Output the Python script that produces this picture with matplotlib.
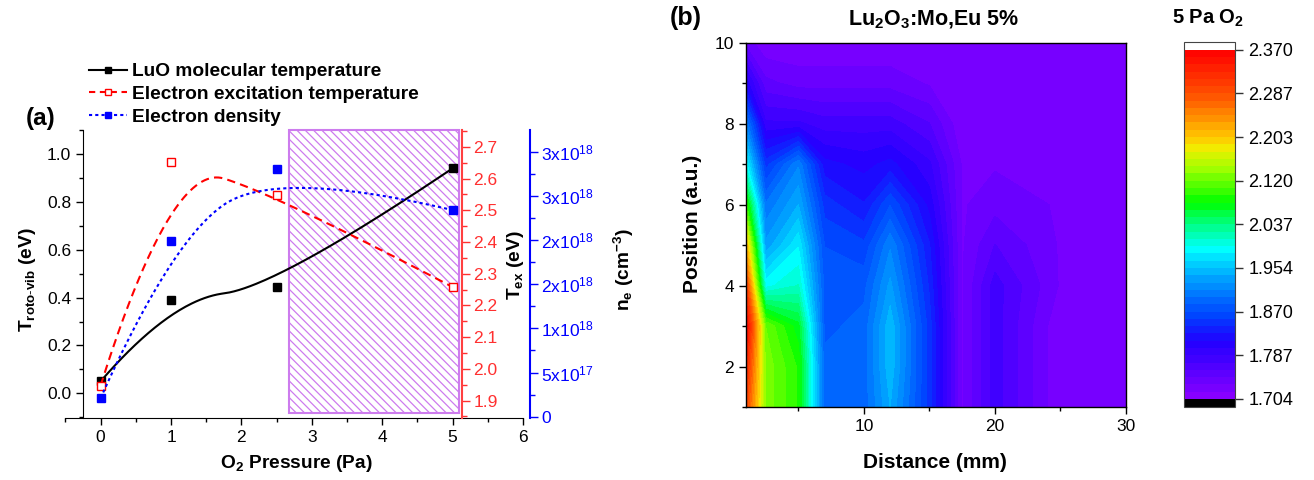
import numpy as np
import matplotlib
matplotlib.use('Agg')
import matplotlib.pyplot as plt
from matplotlib.lines import Line2D
from matplotlib.colors import LinearSegmentedColormap
from matplotlib.ticker import MultipleLocator, FixedLocator, FuncFormatter, FormatStrFormatter

plt.rcParams['font.family'] = 'Liberation Sans'
plt.rcParams['mathtext.fontset'] = 'custom'
plt.rcParams['mathtext.rm'] = 'Liberation Sans'
plt.rcParams['mathtext.it'] = 'Liberation Sans:italic'
plt.rcParams['mathtext.bf'] = 'Liberation Sans:bold'
plt.rcParams['hatch.linewidth'] = 0.9

# ---------------- panel (a) data ----------------
pressure = [0, 1, 2.5, 5]
luo_temp = [0.05, 0.39, 0.445, 0.94]            # T_roto-vib (eV)
tex_vals = [1.947, 2.651, 2.549, 2.258]         # T_ex (eV)
ne_vals = [0.21e18, 1.99e18, 2.81e18, 2.34e18]  # n_e (cm^-3)
shade_range = [2.68, 5.09]
legend_labels = ['LuO molecular temperature',
                 'Electron excitation temperature',
                 'Electron density']

# ---------------- panel (b) data ----------------
distance = [1, 2.5, 5, 7, 10, 12, 15, 17.5, 20, 25, 30]
position = [1, 2, 3, 4, 5, 6, 7, 8, 9, 10]
col_d1 = [2.30, 2.33, 2.37, 2.31, 2.22, 2.10, 1.99, 1.91, 1.81, 1.74]
col_d2_5 = [2.13, 2.13, 2.12, 1.99, 1.93, 1.90, 1.85, 1.79, 1.75, 1.72]
col_d5 = [2.09, 2.09, 2.07, 2.01, 1.98, 1.94, 1.91, 1.79, 1.74, 1.72]
col_d7 = [1.89, 1.89, 1.88, 1.88, 1.87, 1.85, 1.82, 1.78, 1.74, 1.72]
col_d10 = [1.89, 1.89, 1.89, 1.88, 1.86, 1.83, 1.81, 1.78, 1.74, 1.72]
col_d12 = [1.94, 1.95, 1.95, 1.93, 1.91, 1.87, 1.82, 1.78, 1.74, 1.72]
col_d15 = [1.85, 1.85, 1.85, 1.84, 1.83, 1.81, 1.79, 1.76, 1.73, 1.72]
col_d17_5 = [1.73, 1.73, 1.73, 1.73, 1.73, 1.73, 1.73, 1.72, 1.72, 1.72]
col_d20 = [1.78, 1.78, 1.78, 1.78, 1.76, 1.74, 1.73, 1.73, 1.72, 1.72]
col_d25 = [1.72, 1.72, 1.72, 1.73, 1.73, 1.73, 1.72, 1.72, 1.72, 1.72]
col_d30 = [1.72, 1.72, 1.72, 1.73, 1.73, 1.72, 1.72, 1.72, 1.72, 1.72]
cbar_ticks = [1.704, 1.787, 1.870, 1.954, 2.037, 2.120, 2.203, 2.287, 2.370]

W, H = 1314, 480
fig = plt.figure(figsize=(W / 100, H / 100), dpi=100)


def fx(px):
    return px / W


def fy(py):
    return 1 - py / H


def quad_bspline(xv, yv, npts=80):
    """Clamped uniform quadratic B-spline using the data points as control points."""
    P = np.column_stack([xv, yv]).astype(float)
    n = len(P)
    s = np.linspace(0, 1, npts)[:, None]
    out = []
    for k in range(n - 2):
        A = P[0] if k == 0 else (P[k] + P[k + 1]) / 2
        C = P[n - 1] if k == n - 3 else (P[k + 1] + P[k + 2]) / 2
        seg = (1 - s) ** 2 * A + 2 * s * (1 - s) * P[k + 1] + s ** 2 * C
        out.append(seg)
    out = np.vstack(out)
    return out[:, 0], out[:, 1]


MS = 5.2

# ---------------- panel (a) ----------------
ax = fig.add_axes([fx(65.4), fy(418), (523 - 65.4) / W, (418 - 130) / H])
ax.set_xlim(-0.5, 6)
ax.set_ylim(-0.103, 1.10)
ax.spines['top'].set_visible(False)
ax.spines['right'].set_visible(False)
ax.spines['left'].set_position(('data', -0.25))
ax.xaxis.set_major_locator(MultipleLocator(1))
ax.xaxis.set_minor_locator(MultipleLocator(0.5))
ax.yaxis.set_major_locator(MultipleLocator(0.2))
ax.yaxis.set_minor_locator(MultipleLocator(0.1))
ax.yaxis.set_major_formatter(FormatStrFormatter('%.1f'))
ax.tick_params(which='major', direction='out', length=5, width=1, labelsize=12.5)
ax.tick_params(which='minor', direction='out', length=3, width=1)

ax.axvspan(shade_range[0], shade_range[1], ymin=0.017, ymax=1.0,
           facecolor='none', edgecolor='#CD7CEE', hatch='\\\\\\\\',
           linewidth=1.5, zorder=0.5, clip_on=False)

bx, by = quad_bspline(pressure, luo_temp)
ax.plot(bx, by, color='black', lw=1.5, zorder=3)
ax.plot(pressure, luo_temp, ls='none', marker='s', ms=MS, color='black', zorder=4)

axr = ax.twinx()
axr.set_ylim(1.845, 2.753)
for s in ['left', 'top', 'bottom']:
    axr.spines[s].set_visible(False)
axr.spines['right'].set_position(('data', 5.13))
axr.spines['right'].set_color('#FF4040')
axr.spines['right'].set_linewidth(1.5)
axr.yaxis.set_major_locator(MultipleLocator(0.1))
axr.yaxis.set_minor_locator(MultipleLocator(0.05))
axr.yaxis.set_major_formatter(FormatStrFormatter('%.1f'))
axr.tick_params(which='major', direction='out', length=6, width=1, colors='#FF3030',
                labelsize=12.5, pad=2.5)
axr.tick_params(which='minor', direction='out', length=3.5, width=1, colors='#FF3030')
rx, ry = quad_bspline(pressure, tex_vals)
axr.plot(rx, ry, color='red', lw=1.5, dashes=(4, 2.5), zorder=3)
axr.plot(pressure, tex_vals, ls='none', marker='s', ms=MS, mfc='white',
         mec='red', mew=1.0, zorder=4)

axb = ax.twinx()
axb.set_ylim(-0.015e18, 3.247e18)
for s in ['left', 'top', 'bottom']:
    axb.spines[s].set_visible(False)
axb.spines['right'].set_position(('outward', 5))
axb.spines['right'].set_color('blue')
axb.spines['right'].set_linewidth(1.5)
axb.yaxis.set_major_locator(MultipleLocator(0.5e18))
axb.yaxis.set_minor_locator(MultipleLocator(0.25e18))


def sci_fmt(v, pos):
    if v < -1e6:
        return ''
    if abs(v) < 1e6:
        return '0'
    e = int(np.floor(np.log10(v)))
    m = int(v / 10 ** e + 0.5)
    if m >= 10:
        m //= 10
        e += 1
    return '%dx10$^{%d}$' % (m, e)


axb.yaxis.set_major_formatter(FuncFormatter(sci_fmt))
axb.tick_params(which='major', direction='out', length=6, width=1, colors='blue',
                labelsize=12.5, pad=2)
axb.tick_params(which='minor', direction='out', length=3.5, width=1, colors='blue')
nx, ny = quad_bspline(pressure, ne_vals)
axb.plot(nx, ny, color='blue', lw=1.5, dashes=(1.5, 1.5), zorder=3)
axb.plot(pressure, ne_vals, ls='none', marker='s', ms=MS, color='blue', zorder=4)

handles = [
    Line2D([], [], color='black', lw=1.5, marker='s', ms=4.5),
    Line2D([], [], color='red', lw=1.5, dashes=(3, 2.2), marker='s', ms=4.5, mfc='white', mec='red'),
    Line2D([], [], color='blue', lw=1.5, dashes=(1.5, 1.5), marker='s', ms=4.5),
]
fig.legend(handles, legend_labels, loc='upper left', bbox_to_anchor=(fx(89), fy(63)),
           frameon=False, borderpad=0, borderaxespad=0, handlelength=2.0,
           handletextpad=0.26, labelspacing=0.28, prop={'size': 13.75, 'weight': 'bold'})

fig.text(fx(41), fy(118), '(a)', fontsize=17.5, fontweight='bold', ha='center', va='center')
fig.text(fx(27), fy(280), r'$\mathbf{T_{roto\text{-}vib}}$ (eV)', rotation=90,
         fontsize=13.75, fontweight='bold', ha='center', va='center')
fig.text(fx(515), fy(265), r'$\mathbf{T_{ex}}$ (eV)', rotation=90,
         fontsize=13.75, fontweight='bold', ha='center', va='center')
fig.text(fx(624), fy(270), r'$\mathbf{n_e}$ (cm$^{\mathbf{-3}}$)', rotation=90,
         fontsize=13.75, fontweight='bold', ha='center', va='center')
fig.text(fx(296), fy(463), r'O$_\mathbf{2}$ Pressure (Pa)',
         fontsize=13.75, fontweight='bold', ha='center', va='center')

# ---------------- panel (b) ----------------
Z = np.array([col_d1, col_d2_5, col_d5, col_d7, col_d10, col_d12, col_d15,
              col_d17_5, col_d20, col_d25, col_d30]).T

cmap = LinearSegmentedColormap.from_list('origin_rainbow', [
    (0.0, '#8C00FF'), (0.107, '#4400FF'), (0.165, '#2200FF'), (0.233, '#0040FF'),
    (0.291, '#0070FF'), (0.359, '#00B0FF'), (0.427, '#00FFFF'), (0.485, '#00FFA0'),
    (0.563, '#00FF00'), (0.66, '#A0FF00'), (0.718, '#F0F000'), (0.748, '#FFC800'),
    (0.806, '#FF9000'), (0.874, '#FF5000'), (1.0, '#FF0000')])
cmap.set_over('white')
cmap.set_under('black')

ax2 = fig.add_axes([fx(746), fy(407), (1126 - 746) / W, (407 - 42.7) / H])
levels = np.linspace(cbar_ticks[0], cbar_ticks[-1], 49)
cf = ax2.contourf(distance, position, Z, levels=levels, cmap=cmap, extend='both')
ax2.set_xlim(1, 30)
ax2.set_ylim(1, 10)
ax2.xaxis.set_major_locator(FixedLocator([10, 20, 30]))
ax2.xaxis.set_minor_locator(FixedLocator([5, 15, 25]))
ax2.yaxis.set_major_locator(MultipleLocator(2))
ax2.yaxis.set_minor_locator(FixedLocator([1, 3, 5, 7, 9]))
ax2.tick_params(which='major', direction='out', length=5, width=1, labelsize=12.5)
ax2.tick_params(which='minor', direction='out', length=3, width=1)
for s in ax2.spines.values():
    s.set_linewidth(1.0)

fig.text(fx(692), fy(224), 'Position (a.u.)', rotation=90, fontsize=15,
         fontweight='bold', ha='center', va='center')
fig.text(fx(935), fy(463), 'Distance (mm)', fontsize=15, fontweight='bold',
         ha='center', va='center')
fig.text(fx(934), fy(20), r'Lu$_\mathbf{2}$O$_\mathbf{3}$:Mo,Eu 5%', fontsize=15.5,
         fontweight='bold', ha='center', va='center')
fig.text(fx(686), fy(18), '(b)', fontsize=18, fontweight='bold', ha='center', va='center')
fig.text(fx(1208), fy(18), r'5 Pa O$_\mathbf{2}$', fontsize=14.5, fontweight='bold',
         ha='center', va='center')

cax = fig.add_axes([fx(1184), fy(407), (1235 - 1184) / W, (407 - 41.7) / H])
cb = fig.colorbar(cf, cax=cax, ticks=cbar_ticks, extendrect=True, extendfrac=0.023)
cb.ax.yaxis.set_major_formatter(FormatStrFormatter('%.3f'))
cb.ax.tick_params(direction='out', length=6, width=1, labelsize=13, color='#333333')
cb.ax.minorticks_off()
cb.outline.set_linewidth(0.8)
cb.outline.set_edgecolor('#444444')

fig.savefig('out.png', dpi=100)
